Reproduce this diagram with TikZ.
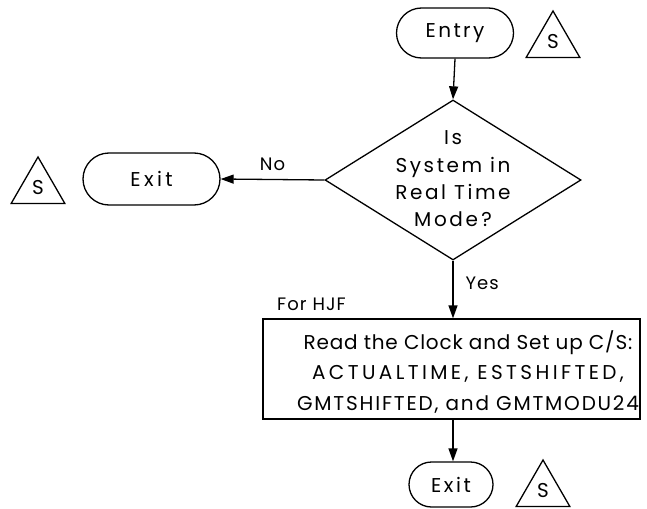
\documentclass[tikz,border=0pt]{standalone}
\usepackage{fontspec}
\setmainfont{Poppins}[LetterSpace=6]
\usetikzlibrary{shapes.misc,shapes.geometric,arrows.meta}
% widen the lettering of one text
\newcommand{\spread}[1]{\addfontfeature{LetterSpace=#1}}
\begin{document}
\begin{tikzpicture}[x=1pt,y=-1pt,
  every node/.style={font=\fontsize{18}{28}\selectfont},
  big/.style={font=\fontsize{20}{27}\selectfont},
  flow/.style={line width=1.3pt},
  term/.style={flow,draw,rounded rectangle,inner sep=0pt,big},
  decision/.style={flow,draw,diamond,inner sep=0pt,align=center,
    minimum width=256pt,minimum height=160pt},
  procbox/.style={flow,draw,rectangle,minimum width=377pt,minimum height=100pt},
  offpage/.style={flow,draw,regular polygon,regular polygon sides=3,
    minimum size=62pt,inner sep=0pt,font=\fontsize{20}{24}\selectfont},
  arr/.style={flow,-{Triangle[length=13pt,width=9pt]}},
  tag/.style={inner sep=0pt}]
\useasboundingbox (0,0) rectangle (647,508);

% terminals and connectors
\node[term,minimum width=117pt,minimum height=50pt] (entry) at (455,33) {\spread{12}Entry};
\node[offpage] (sTop) at (553,42) {S};
\node[decision] (dec) at (453,180) {};
\node[tag,align=center,font=\fontsize{20}{27.3}\selectfont] (q) at (453,179)
  {\spread{13}Is\\\spread{13}System in\\\spread{13}Real Time\\\spread{13}Mode\,?};
\node[term,minimum width=137pt,minimum height=52pt] (exitL) at (151.5,179) {\spread{17}Exit};
\node[offpage] (sLeft) at (38,188) {S};

% processing step
\node[procbox] (proc) at (451.5,369) {};
\node[tag,align=center,font=\fontsize{20}{30.5}\selectfont] (proctext) at (468,372)
  {\spread{4}Read the Clock and Set up C/S:\\
   \spread{17}ACTUALTIME, ESTSHIFTED,\\
   \spread{9}GMTSHIFTED, and GMTMODU24};
\node[tag,anchor=west] (hjf) at (277,304) {For HJF};

\node[term,minimum width=84pt,minimum height=45pt] (exitB) at (451,484.5) {\spread{13}Exit};
\node[offpage] (sBot) at (543,491) {S};

% flow lines
\draw[arr] (entry.south) -- (dec.north);
\draw[arr] (dec.west) -- node[tag,above=8pt] (no) {No} (exitL.east);
\draw[arr] (dec.south) -- (dec.south |- proc.north)
  node[tag,anchor=west,pos=0.4,xshift=12pt] (yes) {Yes};
\draw[arr] (dec.south |- proc.south) -- (dec.south |- exitB.north);
\end{tikzpicture}
\end{document}
